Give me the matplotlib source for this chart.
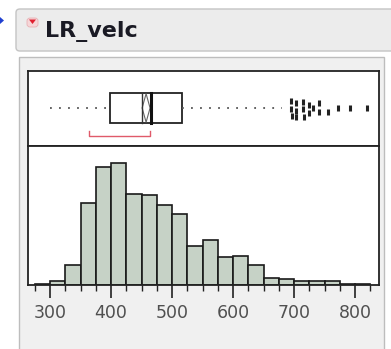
import matplotlib
matplotlib.use("Agg")
import matplotlib.pyplot as plt
from matplotlib.patches import Rectangle, FancyBboxPatch, Polygon
from matplotlib.ticker import MultipleLocator
import numpy as np

# ---- data ----
title = "LR_velc"
bin_edges = list(range(275, 826, 25))
counts = [1, 4, 20, 82, 118, 122, 91, 90, 80, 71, 39, 45, 28, 29, 20, 7, 6, 4, 4, 4, 1, 1]
tick_values = [300, 400, 500, 600, 700, 800]
q1, median, q3 = 398, 465, 517
mean_lo, mean_hi = 451, 464
inner_line = 450
whisker_lo, whisker_hi = 300, 680
shortest_half = (364, 464)
outliers_x = [695, 695, 696, 703, 703, 704, 715, 715, 716, 725, 725, 731, 741, 741, 756, 772, 792, 820]
outliers_jit = [0.09, -0.02, -0.11, 0.06, -0.04, -0.12, 0.08, -0.02, -0.12, 0.04, -0.07, 0.0, 0.06, -0.05, -0.06, 0.0, 0.0, 0.0]

W, H = 391, 349
fig = plt.figure(figsize=(W / 100, H / 100), dpi=100)
fig.patch.set_facecolor("white")

def fx(px):
    return px / W

def fy(py):
    return 1 - py / H

def addp(p, z=-5):
    p.set_zorder(z)
    fig.patches.append(p)

# title bar
addp(FancyBboxPatch((fx(16), fy(51)), fx(391 - 16 + 5), (51 - 9) / H,
                    boxstyle="round,pad=0,rounding_size=0.01",
                    transform=fig.transFigure, fc="#ececec", ec="#c4c4c4", lw=1))
# outer panel
addp(Rectangle((fx(19), fy(352)), fx(384 - 19), (352 - 57) / H,
               transform=fig.transFigure, fc="#f0f0f0", ec="#bdbdbd", lw=1))
# blue arrow
addp(Polygon([(fx(0), fy(17)), (fx(4), fy(20.5)), (fx(0), fy(24))],
             closed=True, transform=fig.transFigure, fc="#2040d0", ec="none"))
# red triangle icon
addp(FancyBboxPatch((fx(27), fy(27)), fx(11), 9 / H,
                    boxstyle="round,pad=0,rounding_size=0.008",
                    transform=fig.transFigure, fc="#f6d6d8", ec="#e8b0b4", lw=0.6))
addp(Polygon([(fx(29), fy(19.5)), (fx(36), fy(19.5)), (fx(32.5), fy(24))],
             closed=True, transform=fig.transFigure, fc="#e02030", ec="none"), z=-4)
fig.text(fx(45), fy(31.5), title, fontsize=16, fontweight="bold", color="#1a1a24",
         va="center", ha="left", family="DejaVu Sans")

left, right = 28, 379
top_box, divider, bottom = 71, 146, 285
xlim = (263.9, 839.3)

ax_box = fig.add_axes([fx(left), fy(divider), fx(right - left), (divider - top_box) / H])
ax_hist = fig.add_axes([fx(left), fy(bottom), fx(right - left), (bottom - divider) / H])

for ax in (ax_box, ax_hist):
    ax.set_xlim(*xlim)
    ax.set_facecolor("white")
    for s in ax.spines.values():
        s.set_linewidth(1.3)
        s.set_color("#222222")

# ---- box plot ----
ax_box.set_ylim(0, 1)
ax_box.set_xticks([])
ax_box.set_yticks([])
yc = 0.507
bh = 0.40
ax_box.add_patch(Rectangle((q1, yc - bh / 2), q3 - q1, bh, fc="white", ec="#222222", lw=1.3))
ax_box.plot([median, median], [yc - bh / 2, yc + bh / 2], color="#111111", lw=2.2)
ax_box.plot([inner_line, inner_line], [yc - bh / 2, yc + bh / 2], color="#333333", lw=1.0)
mid = (mean_lo + mean_hi) / 2
ax_box.add_patch(Polygon([(mid, yc + 0.19), (mean_lo, yc), (mid, yc - 0.19), (mean_hi, yc)],
                         closed=True, fc="none", ec="#666666", lw=0.8))
ax_box.plot([whisker_lo, q1], [yc, yc], color="#555555", lw=1.3, linestyle=(0, (1.0, 4.0)))
ax_box.plot([q3, whisker_hi], [yc, yc], color="#555555", lw=1.3, linestyle=(0, (1.0, 4.0)))
ox = np.array(outliers_x)
oy = yc + np.array(outliers_jit)
ax_box.plot(ox, oy, linestyle="none", marker="|", markersize=4, markeredgewidth=2.2,
            color="#222222")
# shortest half bracket
b_y = 0.135
ax_box.plot([shortest_half[0], shortest_half[0], shortest_half[1], shortest_half[1]],
            [b_y + 0.06, b_y, b_y, b_y + 0.06], color="#e05a6a", lw=1.0)

# ---- histogram ----
ax_hist.hist(bin_edges[:-1], bins=bin_edges, weights=counts, color="#c6d2c6",
             edgecolor="#1a1a1a", linewidth=1.2)
ax_hist.set_ylim(0, 139)
ax_hist.set_yticks([])
ax_hist.set_xticks(tick_values)
ax_hist.xaxis.set_minor_locator(MultipleLocator(25))
ax_hist.tick_params(axis="x", which="major", length=9, width=1.2, color="#222222",
                    labelsize=12.5, labelcolor="#505050", pad=5)
ax_hist.tick_params(axis="x", which="minor", length=4.5, width=1.0, color="#222222")
for lab in ax_hist.get_xticklabels():
    lab.set_family("DejaVu Sans")

fig.savefig("out.png", dpi=100, facecolor=fig.get_facecolor())
